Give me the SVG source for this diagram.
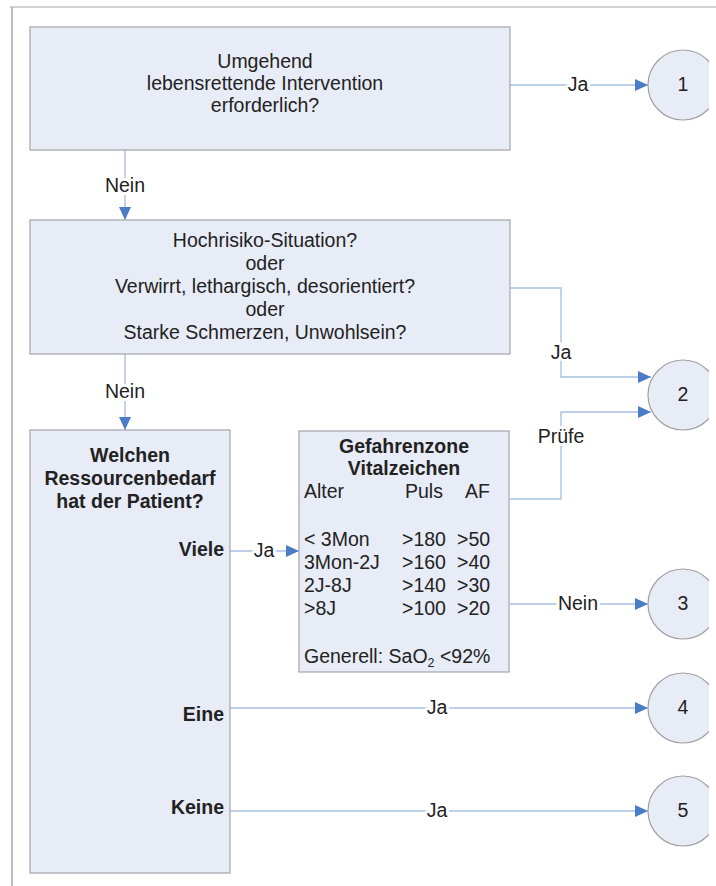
<svg xmlns="http://www.w3.org/2000/svg" width="716" height="886" viewBox="0 0 716 886">
<style>
text{font-family:"Liberation Sans",Arial,sans-serif;font-size:19.5px;fill:#222}
.c{text-anchor:middle}
.r{text-anchor:end}
.b{font-weight:bold}
.box{fill:#e8ecf7;stroke:#a3a3ab;stroke-width:1.2}
.circ{fill:#e8ecf7;stroke:#a0a0a0;stroke-width:1.2}
.con{fill:none;stroke:#a9c1e2;stroke-width:1.4}
.lbl{text-anchor:middle;paint-order:stroke;stroke:#fff;stroke-width:6px;stroke-linejoin:round}
.frame{stroke:#c4c4c4;stroke-width:1.5}
</style>
<defs>
<marker id="ah" markerUnits="userSpaceOnUse" markerWidth="14" markerHeight="12" refX="13" refY="6" orient="auto">
<path d="M0,0 L13,6 L0,12 z" fill="#4a7cc8"/>
</marker>
<clipPath id="clipR"><rect x="0" y="0" width="709" height="886"/></clipPath>
</defs>
<rect x="0" y="0" width="716" height="886" fill="#fff"/>
<line class="frame" x1="10" y1="7" x2="716" y2="7"/>
<line class="frame" x1="12" y1="7" x2="12" y2="886" style="stroke:#a8a8a8"/>

<g id="connectors">
<line class="con" x1="510" y1="85" x2="648" y2="85" marker-end="url(#ah)"/>
<text class="lbl" x="578" y="91">Ja</text>
<line class="con" x1="125" y1="150" x2="125" y2="220" marker-end="url(#ah)"/>
<text class="lbl" x="125" y="192">Nein</text>
<polyline class="con" points="510,288 561,288 561,377 651,377" marker-end="url(#ah)"/>
<text class="lbl" x="561" y="359">Ja</text>
<line class="con" x1="125" y1="354" x2="125" y2="430" marker-end="url(#ah)"/>
<text class="lbl" x="125" y="398">Nein</text>
<polyline class="con" points="510,499 561,499 561,412 651,412" marker-end="url(#ah)"/>
<text class="lbl" x="561" y="443">Prüfe</text>
<line class="con" x1="230" y1="551" x2="299" y2="551" marker-end="url(#ah)"/>
<text class="lbl" x="264" y="557">Ja</text>
<line class="con" x1="510" y1="604" x2="648" y2="604" marker-end="url(#ah)"/>
<text class="lbl" x="578" y="610">Nein</text>
<line class="con" x1="230" y1="708" x2="648" y2="708" marker-end="url(#ah)"/>
<text class="lbl" x="437" y="714">Ja</text>
<line class="con" x1="230" y1="811" x2="648" y2="811" marker-end="url(#ah)"/>
<text class="lbl" x="437" y="817">Ja</text>
</g>

<g id="node-q1">
<rect class="box" x="30" y="27" width="480" height="123"/>
<text class="c" x="265" y="68">Umgehend</text>
<text class="c" x="265" y="90">lebensrettende Intervention</text>
<text class="c" x="265" y="112">erforderlich?</text>
</g>

<g id="node-q2">
<rect class="box" x="30" y="220" width="480" height="134"/>
<text class="c" x="265" y="247">Hochrisiko-Situation?</text>
<text class="c" x="265" y="270">oder</text>
<text class="c" x="265" y="293">Verwirrt, lethargisch, desorientiert?</text>
<text class="c" x="265" y="316">oder</text>
<text class="c" x="265" y="339">Starke Schmerzen, Unwohlsein?</text>
</g>

<g id="node-q3">
<rect class="box" x="30" y="430" width="200" height="443"/>
<text class="c b" x="130" y="462">Welchen</text>
<text class="c b" x="130" y="485">Ressourcenbedarf</text>
<text class="c b" x="130" y="508">hat der Patient?</text>
<text class="r b" x="224" y="556">Viele</text>
<text class="r b" x="224" y="721">Eine</text>
<text class="r b" x="224" y="814">Keine</text>
</g>

<g id="node-vital">
<rect class="box" x="299" y="431" width="210" height="241"/>
<text class="c b" x="404" y="453">Gefahrenzone</text>
<text class="c b" x="404" y="475">Vitalzeichen</text>
<text x="304" y="498">Alter</text>
<text x="405" y="498">Puls</text>
<text x="465" y="498">AF</text>
<text x="304" y="546">&lt; 3Mon</text>
<text x="402" y="546">&gt;180</text>
<text x="457" y="546">&gt;50</text>
<text x="304" y="569">3Mon-2J</text>
<text x="402" y="569">&gt;160</text>
<text x="457" y="569">&gt;40</text>
<text x="304" y="592">2J-8J</text>
<text x="402" y="592">&gt;140</text>
<text x="457" y="592">&gt;30</text>
<text x="304" y="615">&gt;8J</text>
<text x="402" y="615">&gt;100</text>
<text x="457" y="615">&gt;20</text>
<text x="304" y="663">Generell: SaO<tspan font-size="12.5" dy="4">2</tspan><tspan dy="-4"> &lt;92%</tspan></text>
</g>

<g clip-path="url(#clipR)">
<g id="node-1"><circle class="circ" cx="683" cy="85" r="35"/><text class="c" x="683" y="91">1</text></g>
<g id="node-2"><circle class="circ" cx="683" cy="395" r="35"/><text class="c" x="683" y="401">2</text></g>
<g id="node-3"><circle class="circ" cx="683" cy="604" r="35"/><text class="c" x="683" y="610">3</text></g>
<g id="node-4"><circle class="circ" cx="683" cy="708" r="35"/><text class="c" x="683" y="714">4</text></g>
<g id="node-5"><circle class="circ" cx="683" cy="811" r="35"/><text class="c" x="683" y="817">5</text></g>
</g>
</svg>
